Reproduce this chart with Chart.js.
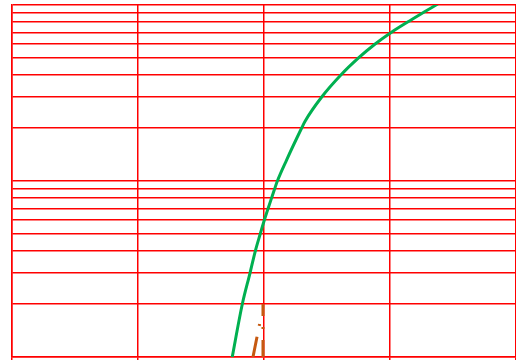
<!DOCTYPE html>
<html>
<head>
<meta charset="utf-8">
<style>
  html, body { margin: 0; padding: 0; background: #ffffff; overflow: hidden; }
  #wrap { width: 516px; height: 360px; overflow: hidden; }
  canvas { display: block; }
</style>
<script src="https://cdn.jsdelivr.net/npm/chart.js@4/dist/chart.umd.min.js"></script>
</head>
<body>
<div id="wrap"><canvas id="chart" width="579" height="365"></canvas></div>
<script>
// Main curve (green)
const curveX = [1.714, 1.748, 1.828, 1.889, 1.931, 1.970, 2.003, 2.033, 2.060, 2.084, 2.106, 2.180, 2.299, 2.325, 2.458, 2.610, 2.750, 2.882, 3.012, 3.140, 3.258, 3.365, 3.470];
const curveY = [0.74, 1, 2, 3, 4, 5, 6, 7, 8, 9, 10, 13.2, 20, 21.8, 30, 40, 50, 60, 70, 80, 90, 100, 112];

// Dash-dot reference lines (orange)
const refAX = [1.992, 1.992];
const refAY = [2.0, 0.74];
const refBX = [1.965, 1.876];
const refBY = [1.541, 0.74];

// Logarithmic grid values
const yTicks = [1, 2, 3, 4, 5, 6, 7, 8, 9, 10, 20, 30, 40, 50, 60, 70, 80, 90, 100];
const xTicks = [0, 1, 2, 3, 4];

const pts = (xs, ys) => xs.map((x, i) => ({ x: x, y: ys[i] }));

const RED = '#ff0000';

new Chart(document.getElementById('chart'), {
  type: 'line',
  data: {
    datasets: [
      {
        data: pts(curveX, curveY),
        borderColor: '#00b050',
        borderWidth: 3,
        pointRadius: 0,
        cubicInterpolationMode: 'monotone',
        fill: false,
        clip: 0
      },
      {
        data: pts(refAX, refAY),
        borderColor: '#c65911',
        borderWidth: 3,
        borderDash: [24, 11, 2, 11],
        borderDashOffset: 12,
        pointRadius: 0,
        fill: false,
        clip: 0
      },
      {
        data: pts(refBX, refBY),
        borderColor: '#c65911',
        borderWidth: 3,
        borderDash: [24, 11, 2, 11],
        borderDashOffset: 35,
        pointRadius: 0,
        fill: false,
        clip: 0
      }
    ]
  },
  options: {
    responsive: false,
    animation: false,
    devicePixelRatio: 1,
    layout: { padding: { left: 12, top: 5, right: 0, bottom: 0 } },
    plugins: { legend: { display: false }, tooltip: { enabled: false } },
    scales: {
      x: {
        type: 'linear',
        min: 0,
        max: 4.5,
        afterBuildTicks: (scale) => { scale.ticks = xTicks.map(v => ({ value: v })); },
        ticks: { display: false },
        grid: { color: RED, lineWidth: 1.5, drawTicks: true, tickLength: 8, tickColor: RED },
        border: { color: RED, width: 1.5 }
      },
      y: {
        type: 'logarithmic',
        min: 1,
        max: 100,
        afterBuildTicks: (scale) => { scale.ticks = yTicks.map(v => ({ value: v })); },
        ticks: { display: false, autoSkip: false },
        grid: { color: RED, lineWidth: 1.5, drawTicks: false },
        border: { color: RED, width: 1.5 }
      }
    }
  }
});
</script>
</body>
</html>
